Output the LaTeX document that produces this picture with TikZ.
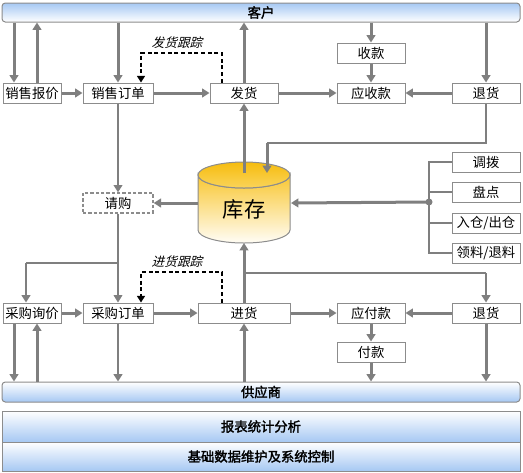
\documentclass[tikz,border=0pt]{standalone}
\usepackage{fontspec}
\setmainfont{Noto Sans CJK SC}[AutoFakeSlant=0.25,AutoFakeBold=2]
\usetikzlibrary{arrows.meta}
\definecolor{ln}{HTML}{7F7F7F}
\definecolor{bd}{HTML}{8C8C8C}
\definecolor{barblue}{HTML}{A6C8F3}
\definecolor{goldtop}{HTML}{F6BC0E}
\definecolor{goldbot}{HTML}{FAD45A}
\definecolor{bodytop}{HTML}{F9C732}
\definecolor{bodybot}{HTML}{FFFDF6}
\begin{document}
\begin{tikzpicture}[x=0.75pt,y=-0.75pt,
 box/.style={draw=bd, line width=0.75pt, fill=white, minimum height=15pt, inner sep=0pt, font=\fontsize{10}{10}\selectfont},
 wa/.style={minimum width=43.5pt}, wb/.style={minimum width=52.5pt},
 wc/.style={minimum width=51pt}, wd/.style={minimum width=69pt},
 bar/.style={draw=bd, line width=0.75pt, minimum width=388.5pt, inner sep=0pt, font=\bfseries\fontsize{10}{10}\selectfont},
 arr/.style={draw=ln, line width=2.25pt, -{Triangle[length=5.5pt,width=6.5pt]}},
 arrm/.style={draw=ln, line width=1.5pt, -{Triangle[length=5.5pt,width=6.5pt]}},
 thinln/.style={draw=ln, line width=0.9pt},
 track/.style={draw=black, line width=1.2pt, dash pattern=on 3pt off 2pt, -{Triangle[length=5pt,width=6pt]}},
 lbl/.style={font=\itshape\fontsize{9.5}{10}\selectfont}]
\useasboundingbox (0,0) rectangle (523,472);
% bars
\node[bar, rounded corners=2.5pt, minimum height=14.25pt, top color=barblue, bottom color=white] (kh) at (261,12.5) {客户};
\node[bar, rounded corners=2.5pt, minimum height=15pt, top color=white, bottom color=barblue] (gys) at (261,392) {供应商};
\node[bar, minimum height=23.25pt, top color=white, bottom color=barblue] (bb) at (261,426.5) {报表统计分析};
\node[bar, minimum height=21.75pt, top color=white, bottom color=barblue] (jc) at (261,456.5) {基础数据维护及系统控制};
% top row
\node[box,wa] (sbj) at (32,93) {销售报价};
\node[box,wb] (sdd) at (118,93) {销售订单};
\node[box,wc] (fh) at (244,93) {发货};
\node[box,wc] (ysk) at (371,93) {应收款};
\node[box,wc] (th1) at (486,93) {退货};
\node[box,wc] (sk) at (371,53) {收款};
% middle
\node[box,wb,dashed,dash pattern=on 2.5pt off 1.5pt,line width=1pt] (qg) at (118,203) {请购};
\node[box,wc] (db) at (486,162) {调拨};
\node[box,wc] (pd) at (486,192) {盘点};
\node[box,wc] (rc) at (486,223) {入仓/出仓};
\node[box,wc] (ll) at (486,253) {领料/退料};
% bottom row
\node[box,wa] (cxj) at (32,313) {采购询价};
\node[box,wb] (cdd) at (118,313) {采购订单};
\node[box,wd] (jh) at (244,313) {进货};
\node[box,wc] (yfk) at (371,313) {应付款};
\node[box,wc] (th2) at (486,313) {退货};
\node[box,wc] (fk) at (371,352) {付款};
% cylinder
\shade[top color=bodytop, bottom color=bodybot, draw=bd, line width=0.75pt]
  (198,175) -- (198,230) arc[start angle=180,end angle=0,x radius=46,y radius=13]
  -- (290,175) arc[start angle=0,end angle=180,x radius=46,y radius=13] -- cycle;
\shade[top color=goldtop, bottom color=goldbot, draw=bd, line width=0.75pt]
  (244,175) ellipse[x radius=46, y radius=13];
\node[font=\fontsize{16}{16}\selectfont] (kc) at (244,209) {库存};
\coordinate (ctop) at (244,173);
\coordinate (cin) at (267,173);
\coordinate (cleft) at (198,203);
\coordinate (cright) at (291,203);
\coordinate (cbot) at (244,243);
\coordinate (dot) at (429,202);
% top arrows
\draw[arr] (kh.south -| 14,0) -- (sbj.north -| 14,0);
\draw[arr] (sbj.north -| 37,0) -- (kh.south -| 37,0);
\draw[arr] (kh.south -| sdd) -- (sdd.north);
\draw[arr] (fh.north) -- (kh.south -| fh);
\draw[arr] (kh.south -| sk) -- (sk.north);
\draw[arr] (kh.south -| th1) -- (th1.north);
\draw[arr] (sk.south) -- (ysk.north);
\draw[arr] (sbj.east) -- (sdd.west);
\draw[arr] (sdd.east) -- (fh.west);
\draw[arr] (fh.east) -- (ysk.west);
\draw[arr] (th1.west) -- (ysk.east);
\coordinate (ta) at (222,53);
\coordinate (tb) at (141,53);
\draw[track] (fh.north -| ta) -- (ta) -- (tb) -- (sdd.north -| tb);
\node[lbl] (fhgz) at (177,43) {发货跟踪};
% stock connections
\draw[arr] (ctop) -- (fh.south);
\coordinate (ra) at (486,143);
\coordinate (rb) at (267,143);
\draw[thinln] (th1.south) -- (ra) -- (rb);
\draw[arr] (rb) -- (cin);
\draw[arr] (cleft) -- (qg.east);
\draw[arrm] (sdd.south) -- (qg.north);
\coordinate (qa) at (118,263);
\coordinate (qb) at (26,263);
\draw[thinln,-{Triangle[length=5.5pt,width=6.5pt]}] (qg.south) -- (cdd.north);
\draw[thinln] (qa) -- (qb);
\draw[arrm] (qb) -- (cxj.north -| qb);
% bracket
\draw[thinln] (db.west) -- (db.west -| dot) -- (ll.west -| dot) -- (ll.west);
\draw[thinln] (pd.west) -- (pd.west -| dot);
\draw[thinln] (rc.west) -- (rc.west -| dot);
\fill[ln] (dot) circle (3.5);
\draw[arr] (dot) -- (cright);
% bottom arrows
\draw[arr] (cxj.east) -- (cdd.west);
\draw[arr] (cdd.east) -- (jh.west);
\draw[arr] (jh.east) -- (yfk.west);
\draw[arr] (th2.west) -- (yfk.east);
\draw[arr] (yfk.south) -- (fk.north);
\draw[arr] (fk.south) -- (gys.north -| fk);
\draw[arr] (th2.south) -- (gys.north -| th2);
\draw[arr] (gys.north -| jh) -- (jh.south);
\draw[arrm] (cdd.south) -- (gys.north -| cdd);
\draw[arr] (cxj.south -| 14,0) -- (gys.north -| 14,0);
\draw[arr] (gys.north -| 37,0) -- (cxj.south -| 37,0);
\draw[arr] (jh.north) -- (cbot);
\coordinate (ja) at (244,273);
\coordinate (jb) at (486,273);
\draw[thinln] (ja) -- (jb);
\draw[arrm] (jb) -- (th2.north);
\coordinate (pa) at (222,272);
\coordinate (pb) at (141,272);
\draw[track] (jh.north -| pa) -- (pa) -- (pb) -- (cdd.north -| pb);
\node[lbl] (jhgz) at (177,262) {进货跟踪};
\end{tikzpicture}
\end{document}
